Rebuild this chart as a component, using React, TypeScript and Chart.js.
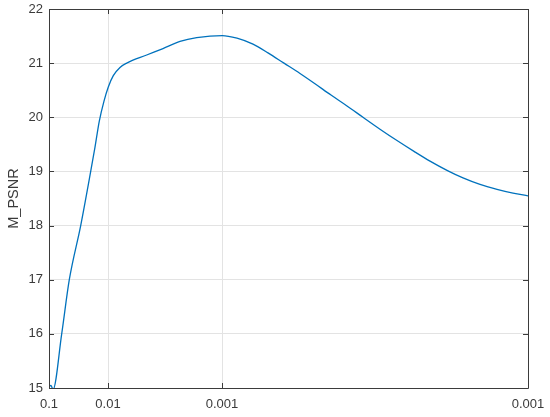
import { useEffect, useRef } from 'react';
import { Chart, registerables } from 'chart.js';

Chart.register(...registerables);

// Position along the (non-uniform) regularisation axis, in axis units
const xPositions = [0, 2, 4, 12.7, 20.3, 31.7, 41.7, 46, 50.3, 55, 59.3, 64.3, 71, 77.7, 97.7, 114, 131, 147.7, 173.3, 188, 204, 219, 235, 251, 266, 282, 298, 314, 331, 348, 365, 381, 398, 414, 431, 448, 464, 479];
const mPsnr = [15.02, 15.05, 14.97, 16.0, 17.0, 18.0, 19.0, 19.45, 19.93, 20.3, 20.56, 20.77, 20.92, 21.0, 21.15, 21.27, 21.4, 21.47, 21.51, 21.46, 21.35, 21.19, 21.0, 20.81, 20.62, 20.41, 20.21, 20.0, 19.78, 19.57, 19.37, 19.19, 19.02, 18.88, 18.76, 18.67, 18.6, 18.55];

const xTickPositions = [0, 59, 173, 479];
const xTickLabels = ['0.1', '0.01', '0.001', '0.001'];
const yTickValues = [15, 16, 17, 18, 19, 20, 21, 22];

const AXIS_COLOR = '#3b3b3b';
const TEXT_COLOR = '#3a3a3a';
const GRID_COLOR = '#e3e3e3';
const FONT = 'Liberation Sans, Arial, Helvetica, sans-serif';

const boxPlugin = {
  id: 'matlabBox',
  afterDraw(chart: any) {
    const { ctx, chartArea } = chart;
    const { left, right, top, bottom } = chartArea;
    const xs = chart.scales.x;
    const ys = chart.scales.y;
    const tl = 5;
    ctx.save();
    ctx.strokeStyle = AXIS_COLOR;
    ctx.lineWidth = 1;
    ctx.beginPath();
    ctx.rect(Math.round(left) + 0.5, Math.round(top) + 0.5, Math.round(right - left), Math.round(bottom - top));
    for (const v of xTickPositions) {
      const px = Math.round(xs.getPixelForValue(v)) + 0.5;
      ctx.moveTo(px, bottom);
      ctx.lineTo(px, bottom - tl);
      ctx.moveTo(px, top);
      ctx.lineTo(px, top + tl);
    }
    for (const v of yTickValues) {
      const py = Math.round(ys.getPixelForValue(v)) + 0.5;
      ctx.moveTo(left, py);
      ctx.lineTo(left + tl, py);
      ctx.moveTo(right, py);
      ctx.lineTo(right - tl, py);
    }
    ctx.stroke();
    ctx.restore();
  },
};

export default function App() {
  const canvasRef = useRef<HTMLCanvasElement | null>(null);

  useEffect(() => {
    if (!canvasRef.current) return;
    const chart = new Chart(canvasRef.current, {
      type: 'line',
      data: {
        datasets: [
          {
            data: xPositions.map((x, i) => ({ x, y: mPsnr[i] })),
            borderColor: '#0072BD',
            borderWidth: 1.3,
            pointRadius: 0,
            tension: 0.4,
            cubicInterpolationMode: 'monotone',
            fill: false,
          },
        ],
      },
      options: {
        responsive: false,
        animation: false,
        layout: { padding: { top: 9, right: 22, left: 0, bottom: 0 } },
        plugins: { legend: { display: false }, tooltip: { enabled: false } },
        scales: {
          x: {
            type: 'linear',
            min: 0,
            max: 479,
            afterBuildTicks: (scale: any) => {
              scale.ticks = xTickPositions.map((v) => ({ value: v }));
            },
            afterFit: (scale: any) => {
              scale.height = 29;
              scale.paddingLeft = 0;
              scale.paddingRight = 0;
            },
            ticks: {
              callback: (_v: any, i: number) => xTickLabels[i],
              autoSkip: false,
              maxRotation: 0,
              padding: 9,
              color: TEXT_COLOR,
              font: { family: FONT, size: 13 },
            },
            grid: { color: GRID_COLOR, drawTicks: false },
            border: { display: false },
          },
          y: {
            type: 'linear',
            min: 15,
            max: 22,
            afterBuildTicks: (scale: any) => {
              scale.ticks = yTickValues.map((v) => ({ value: v }));
            },
            afterFit: (scale: any) => {
              scale.width = 49;
              scale.paddingTop = 0;
              scale.paddingBottom = 0;
            },
            ticks: {
              padding: 6,
              color: TEXT_COLOR,
              font: { family: FONT, size: 13 },
            },
            grid: { color: GRID_COLOR, drawTicks: false },
            border: { display: false },
            title: {
              display: true,
              text: 'M_PSNR',
              color: TEXT_COLOR,
              font: { family: FONT, size: 14.5 },
              padding: { top: 5, bottom: 0 },
            },
          },
        },
      },
      plugins: [boxPlugin],
    });
    return () => chart.destroy();
  }, []);

  return (
    <div style={{ position: 'absolute', left: 0, top: 0, width: 550, height: 417, background: '#fff' }}>
      <canvas ref={canvasRef} width={550} height={417} />
    </div>
  );
}
